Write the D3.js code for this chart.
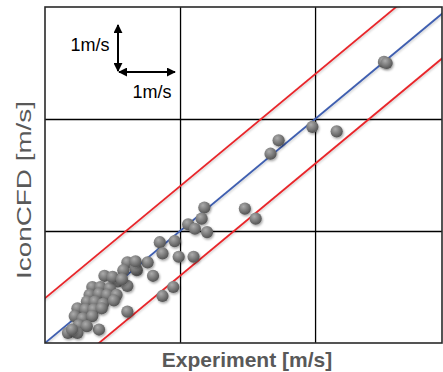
<!DOCTYPE html>
<html><head><meta charset="utf-8">
<script src="https://cdn.jsdelivr.net/npm/d3@7"></script>
<style>body{margin:0;background:#fff}svg{display:block}</style>
</head><body>
<script>
// ---- data ----
const experiment = [2.51,2.53,1.98,2.16,1.73,1.67,1.48,1.56,1.18,1.16,1.06,1.11,1.20,0.85,0.96,0.87,0.99,1.10,0.80,0.95,0.87,0.76,0.61,0.40,0.68,0.61,0.67,0.58,0.44,0.54,0.61,0.35,0.41,0.48,0.33,0.40,0.46,0.53,0.31,0.37,0.43,0.51,0.24,0.30,0.36,0.42,0.22,0.28,0.35,0.25,0.31,0.17,0.24,0.20,0.67,0.50,0.57];
const iconCFD    = [2.51,2.50,1.93,1.89,1.81,1.69,1.20,1.11,1.21,1.11,1.06,1.02,0.99,0.90,0.91,0.80,0.77,0.77,0.60,0.50,0.42,0.72,0.28,0.12,0.65,0.72,0.67,0.65,0.60,0.55,0.51,0.50,0.50,0.49,0.43,0.44,0.43,0.43,0.37,0.37,0.35,0.38,0.31,0.30,0.30,0.31,0.24,0.22,0.24,0.16,0.15,0.09,0.09,0.12,0.73,0.59,0.57];
const gridX = [1, 2];
const gridY = [1, 2];
const bandOffsets = [0.4, -0.4];
const xLabel = "Experiment [m/s]";
const yLabel = "IconCFD [m/s]";
const arrowLabel = "1m/s";

const W = 443, H = 372;
const L = 45, R = 442, T = 7, B = 343;
const x = d3.scaleLinear().domain([0, 2.94]).range([L, R]);
const y = d3.scaleLinear().domain([0, 3]).range([B, T]);

const svg = d3.select("body").append("svg").attr("width", W).attr("height", H);
const defs = svg.append("defs");
defs.append("clipPath").attr("id", "clip").append("rect")
  .attr("x", L).attr("y", T).attr("width", R - L).attr("height", B - T);
const g = defs.append("radialGradient").attr("id", "sph").attr("cx", "38%").attr("cy", "32%").attr("r", "68%");
g.append("stop").attr("offset", "0%").attr("stop-color", "#acacac");
g.append("stop").attr("offset", "55%").attr("stop-color", "#7c7c7c");
g.append("stop").attr("offset", "100%").attr("stop-color", "#555555");
const f = defs.append("filter").attr("id", "sh").attr("x", "-50%").attr("y", "-50%").attr("width", "200%").attr("height", "200%");
f.append("feDropShadow").attr("dx", 1).attr("dy", 1.5).attr("stdDeviation", 1.2).attr("flood-color", "#000").attr("flood-opacity", 0.35);
const fl = defs.append("filter").attr("id", "lsh").attr("x", "-10%").attr("y", "-10%").attr("width", "120%").attr("height", "120%");
fl.append("feDropShadow").attr("dx", 1).attr("dy", 1).attr("stdDeviation", 0.8).attr("flood-color", "#000").attr("flood-opacity", 0.2);
defs.append("marker").attr("id", "ah").attr("viewBox", "0 0 10 10").attr("refX", 9).attr("refY", 5)
  .attr("markerWidth", 4.5).attr("markerHeight", 4.5).attr("orient", "auto-start-reverse").attr("markerUnits", "strokeWidth")
  .append("path").attr("d", "M0,0 L10,5 L0,10 Z").attr("fill", "#000");

// grid
svg.append("g").attr("transform", `translate(0,${B})`)
  .call(d3.axisBottom(x).tickValues(gridX).tickSize(-(B - T)).tickFormat(""))
  .call(s => s.select(".domain").remove())
  .call(s => s.selectAll("line").attr("stroke", "#000").attr("stroke-width", 1.3));
svg.append("g").attr("transform", `translate(${L},0)`)
  .call(d3.axisLeft(y).tickValues(gridY).tickSize(-(R - L)).tickFormat(""))
  .call(s => s.select(".domain").remove())
  .call(s => s.selectAll("line").attr("stroke", "#000").attr("stroke-width", 1.3));

// lines
const lines = svg.append("g").attr("clip-path", "url(#clip)");
const seg = d3.line().x(d => x(d[0])).y(d => y(d[1]));
const mk = o => [[-1, -1 + o], [4, 4 + o]];
lines.append("path").attr("d", seg(mk(0))).attr("stroke", "#3f5fb0").attr("stroke-width", 1.8).attr("fill", "none").attr("filter", "url(#lsh)");
bandOffsets.forEach(o => lines.append("path").attr("d", seg(mk(o))).attr("stroke", "#e8262b").attr("stroke-width", 1.8).attr("fill", "none").attr("filter", "url(#lsh)"));

// points
svg.append("g").attr("clip-path", "url(#clip)").selectAll("circle")
  .data(experiment.map((e, i) => [e, iconCFD[i]]))
  .join("circle")
  .attr("cx", d => x(d[0])).attr("cy", d => y(d[1])).attr("r", 6.1)
  .attr("fill", "url(#sph)").attr("filter", "url(#sh)");

// frame
svg.append("rect").attr("x", L).attr("y", T).attr("width", R - L).attr("height", B - T)
  .attr("fill", "none").attr("stroke", "#2a2a2a").attr("stroke-width", 1.6);

// scale arrows
svg.append("line").attr("x1", 118).attr("y1", 25).attr("x2", 118).attr("y2", 71)
  .attr("stroke", "#000").attr("stroke-width", 2).attr("marker-start", "url(#ah)").attr("marker-end", "url(#ah)");
svg.append("line").attr("x1", 119).attr("y1", 72).attr("x2", 175).attr("y2", 72)
  .attr("stroke", "#000").attr("stroke-width", 2).attr("marker-start", "url(#ah)").attr("marker-end", "url(#ah)");
svg.append("text").attr("x", 90).attr("y", 51).attr("text-anchor", "middle")
  .attr("font-family", "Liberation Sans, Arial, sans-serif").attr("font-size", 18).attr("fill", "#000").text(arrowLabel);
svg.append("text").attr("x", 152).attr("y", 98).attr("text-anchor", "middle")
  .attr("font-family", "Liberation Sans, Arial, sans-serif").attr("font-size", 18).attr("fill", "#000").text(arrowLabel);

// axis titles
svg.append("text").attr("x", 247).attr("y", 367).attr("text-anchor", "middle")
  .attr("font-family", "Liberation Sans, Arial, sans-serif").attr("font-size", 21).attr("font-weight", "bold")
  .attr("fill", "#595959").text(xLabel);
svg.append("text").attr("transform", "translate(31,190) rotate(-90)").attr("text-anchor", "middle")
  .attr("font-family", "Liberation Sans, Arial, sans-serif").attr("font-size", 21)
  .attr("textLength", 178).attr("lengthAdjust", "spacingAndGlyphs")
  .attr("fill", "#595959").text(yLabel);
</script>
</body></html>
